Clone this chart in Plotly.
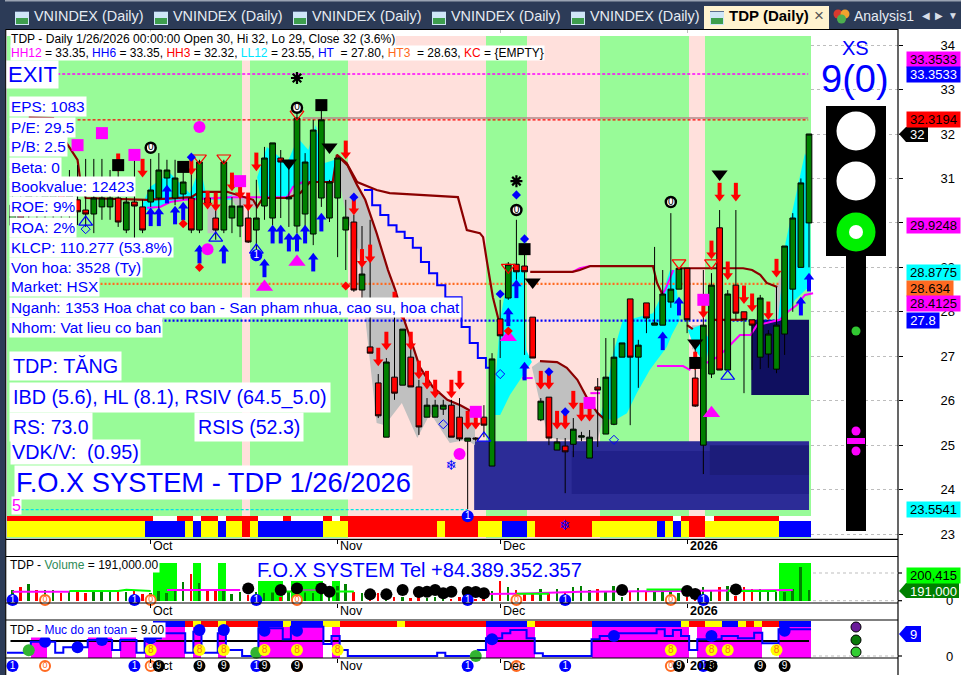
import plotly.graph_objects as go

# ---------- candle data ----------
opens = [29.95,30.52,30.18,30.56,30.18,30.29,30.74,30.29,30.52,30.29,
         30.20,30.36,30.36,30.56,29.84,30.47,30.36,30.47,30.56,31.01,
         30.56,30.65,30.56,29.84,30.56,30.11,29.84,30.11,29.93,30.11,
         29.84,30.38,30.11,31.46,30.54,29.93,30.20,29.75,30.56,30.11,
         30.56,29.84,30.02,28.49,27.21,26.40,25.18,26.53,26.35,26.98,
         26.31,25.63,25.63,25.81,25.90,25.63,25.09,25.16,25.63,24.53,
         27.84,28.31,29.07,29.03,27.88,25.57,26.08,24.89,24.98,25.02,
         25.18,24.71,26.31,25.25,25.47,26.98,28.29,26.98,28.20,27.70,
         27.70,28.22,28.51,28.98,26.51,25.00,26.60,29.89,26.69,28.60,
         28.00,27.82,26.98,27.05,26.71,27.50,28.51,29.00,30.00]
highs = [30.63,30.74,30.85,30.79,30.97,31.08,31.01,31.19,31.30,31.44,
         31.44,31.44,31.19,31.46,30.58,31.44,30.52,31.44,31.57,31.42,
         31.42,31.35,31.26,31.42,30.63,30.45,31.42,30.58,30.58,30.58,
         30.97,31.71,31.80,31.64,31.42,32.50,31.57,32.32,32.54,30.97,
         31.46,30.52,30.18,29.93,30.07,26.60,26.96,27.88,27.61,27.25,
         26.47,26.06,26.02,26.02,26.02,26.06,25.16,25.18,25.90,27.07,
         28.27,29.12,30.07,29.28,27.88,26.06,26.08,25.16,25.16,25.61,
         25.30,25.34,26.51,27.41,27.41,27.30,28.29,27.37,28.20,29.46,
         28.94,30.22,28.98,28.98,27.23,28.94,28.87,30.29,28.49,30.29,
         28.00,27.82,28.38,27.59,28.56,29.48,30.22,31.00,32.00]
lows = [29.73,29.80,29.84,29.89,29.73,29.95,30.07,29.89,29.95,29.91,
        29.77,30.07,30.07,29.91,29.77,29.66,29.77,30.36,30.29,30.63,
        30.40,30.52,29.77,29.77,30.34,29.62,29.77,29.77,29.68,29.55,
        29.35,30.07,29.95,30.11,29.91,29.77,29.84,29.50,30.36,30.02,
        29.23,28.94,28.45,28.31,27.07,25.61,25.18,26.02,26.35,26.31,
        25.23,25.63,25.63,25.68,25.18,25.09,23.56,25.09,25.18,24.53,
        26.96,28.27,28.72,27.03,26.96,25.54,25.00,24.89,23.92,24.73,
        25.09,24.71,24.96,25.25,25.45,26.98,25.45,26.29,27.52,27.70,
        27.70,28.09,28.51,27.52,25.86,24.35,26.51,26.69,26.69,27.82,
        26.17,26.69,26.71,26.74,26.62,27.03,28.00,29.00,29.00]
closes = [30.40,30.11,30.63,30.25,30.74,30.85,30.40,30.63,30.25,30.20,
          30.56,30.56,30.56,30.02,30.47,30.38,29.84,30.74,31.19,31.19,
          31.01,30.92,29.84,31.37,30.43,29.84,31.37,30.38,30.38,29.57,
          30.11,31.46,31.80,31.37,30.58,32.36,31.37,32.09,32.32,30.92,
          31.46,30.13,28.49,28.85,27.07,25.66,26.87,26.17,27.61,26.31,
          25.41,25.90,25.90,25.90,25.18,25.14,25.16,25.14,25.45,26.94,
          27.46,29.07,28.90,28.90,26.96,25.99,25.16,25.07,24.85,25.36,
          25.21,25.18,26.24,26.53,26.98,27.30,26.98,27.25,27.86,27.75,
          28.40,28.51,28.98,27.82,25.88,27.70,28.60,26.69,28.40,27.97,
          27.82,27.70,28.31,27.50,27.70,29.48,30.11,30.90,32.00]
volumes_k = [190,238,298,190,190,190,131,178,167,131,167,167,167,190,161,167,119,143,167,131,
             167,339,476,321,190,167,167,119,161,101,161,131,161,60,161,161,161,131,280,60,
             262,298,161,131,101,131,83,60,60,42,60,48,60,42,24,60,36,36,24,173,
             351,238,190,143,143,202,161,202,161,238,262,190,202,173,262,60,161,220,161,161,
             190,190,131,60,60,250,190,238,262,83,238,208,214,173,161,161,202,595,191]

# per-bar colour bands as (colour, run length)
zone_runs = [("g",29),("p",1),("g",12),("p",17),("g",5),("p",9),("g",11),("p",2),("g",13)]
strip1_runs = [("R",18),("W",3),("R",2),("W",1),("R",2),("W",1),("R",4),("W",3),("R",1),("W",4),
               ("R",1),("W",1),("R",41),("W",1),("R",3),("W",1),("R",8),("W",4)]
strip2_runs = [("Y",17),("B",5),("Y",1),("B",1),("Y",2),("B",1),("Y",2),("R",1),("Y",1),("B",8),
               ("Y",3),("R",11),("Y",1),("R",4),("Y",3),("B",3),("Y",1),("R",7),("Y",8),("B",1),
               ("Y",1),("B",1),("Y",1),("R",2),("Y",9),("B",4)]
ind_strip_runs = [("W",18),("B",4),("R",1),("Y",1),("R",2),("Y",1),("R",4),("B",3),("Y",1),("B",4),
                  ("Y",2),("R",7),("Y",1),("R",10),("B",5),("Y",1),("R",7),("B",11),("Y",1),("R",2),
                  ("Y",2),("B",2),("Y",1),("R",1),("Y",1),("R",2),("B",4)]
ind_bar_runs = [(0,3),(6.4,2),(0,5),(6.4,3),(0,1),(6.4,2),(0,1),(6.4,2),(9.7,3),(0,1),(9.7,1),(0,2),(9.7,1),
                (0,4),(9.7,8),(0,1),(9.7,1),(0,18),(9.7,6),(0,7),(9.7,12),(0,1),(9.7,8),(0,2),(9.7,4)]
lime_runs = [(0,18),(673,3),(0,2),(673,1),(0,2),(673,1),(0,4),(352,3),(0,1),(352,4),(0,1),(352,1),(0,54),(673,4)]

# levels
hh12 = 33.35; hh3 = 32.32; hh_solid = 32.36; ll12 = 23.55; ht = 27.80; ht3 = 28.63

# maroon line
maroon_x = [2,5,6,7,8,8.3,9,16.5,22,23,26.4,29.6,30.1,30.8,33.8,35.4,36.6,39.4,39.9,41.1,42.4,44.8,46.4,54.8,55.9,57.5,57.9,58.4,59.1,59.8,None,
            63.7,68.9,69.8,71.1,78.8,79.3,80,None,
            64.9,67,68.2,69.5,70.7,72,72.7,None,
            39.9,41.2,42.4,43.4,44.8,46.2,47.1,47.9,48.9,50.1,51.7,53.5,55.1,56.9,None,
            82.1,89.9,91,92,92.8,94.1,None,83,83.7,None,86.2,89.9]
maroon_y = [32.38,32.36,31.98,31.71,31.42,31.01,30.56,30.52,30.58,30.70,30.70,30.52,30.36,30.56,30.56,30.67,30.92,30.92,31.53,31.35,30.92,30.74,30.67,30.58,29.84,29.77,29.68,29.10,28.33,27.82,None,
            28.90,28.90,28.94,29.03,29.03,28.65,28.38,None,
            26.89,26.87,26.74,26.47,26.06,25.72,25.61,None,
            31.53,31.30,30.85,30.52,29.77,28.94,28.49,27.97,27.43,26.76,26.31,26.02,25.90,25.72,None,
            28.98,28.98,28.94,28.83,28.65,28.56,None,27.70,27.61,None,27.82,27.82]
# blue staircase
stair_x = [43.25,44.25,45.25,46.25,47.25,48.25,49.25,50.25,51.25,52.25,53.25,55.25,56.25,57.25,58.25,59.25]
stair_y = [30.74,30.40,30.18,29.95,29.80,29.66,29.44,29.12,28.87,28.60,28.33,27.66,27.30,26.96,26.74,26.74]
# magenta pieces
mag_x = [16.55,18.15,19.4,21.2,26.8,33.8,34.5,35.7,39.4,None,62.7,64,None,68.9,69.8,71.1,None,71.1,72.3,None,79.3,82.5,83.4,None,79.7,80.3,81.3,None,
         85.4,86.7,87.7,88.6,89.5,90.8,91.6,94.4,95.4,96.5,97.5,98.5]
mag_y = [30.34,30.36,30.47,30.52,30.58,30.58,30.81,30.92,30.92,None,26.51,26.51,None,28.90,28.98,29.03,None,26.17,26.17,None,26.78,26.78,26.69,None,28.33,28.49,28.94,None,
         26.85,26.98,27.14,27.32,27.48,27.48,27.70,27.82,28.00,28.15,28.38,28.42]
# cyan and grey areas
cyan_x = [59.1,60,61,62,62.9,63.2,63.9,61.2,60,59.1,None,
          72.3,73,73.9,75.1,76.6,78.8,79.9,80.9,81.5,82.1,81.1,80.5,78.4,76.8,75.6,74.1,72.3,None,
          83.1,84,85.3,85.8,84.6,83.1,None,
          94.2,95.1,97.5,98.1,98.2,96.3,95.1,94.2,None,
          15.7,16.9,19.4,21.8,23.1,23.9,25.8,27,27,21.8,19.4,16.9,15.7,None,
          30.1,31.3,33.8,35.1,36.4,37.3,38.4,39.7,39.4,36.6,34.5,33.8,30.5,30.1]
cyan_y = [25.68,27.82,28.87,28.94,28.94,27.14,26.87,26.13,25.68,25.68,None,
          25.61,26.13,27.07,27.82,27.86,27.97,28.38,28.94,28.94,27.82,27.48,27.21,26.69,26.17,25.72,25.56,25.61,None,
          27.59,27.14,26.80,27.37,27.70,27.59,None,
          27.82,29.55,31.57,31.30,28.60,28.27,27.86,27.82,None,
          30.29,30.81,31.12,30.67,31.26,30.58,30.58,30.63,30.52,30.52,30.47,30.29,30.29,None,
          31.03,31.71,31.35,31.91,31.64,32.20,31.35,31.42,30.92,30.92,30.81,30.58,30.58,31.03]
grey_x = [39.9,41.2,42.4,43.4,44.8,46.2,47.1,47.9,48.9,50.1,51.7,53.5,55.1,56.9,56.9,55.9,53.8,51.4,49.8,47.9,45.8,44.8,43.6,42.5,41.2,39.9,None,
          64.9,67,68.2,69.5,70.7,72,72.7,72,67.4,65.9,64.9,63.9,64.9,None,
          24,25.2,25.2,24,24,None,26.5,30,30,27.4,26.5,None,33.8,35,34.5,33.8,None,38.8,39.9,38.4,38.8,None,
          83.6,84.6,84.6,83.6,83.6,None,93.8,95,95,93.8,93.8]
grey_y = [31.53,31.30,30.85,30.52,29.77,28.94,28.49,27.97,27.43,26.76,26.31,26.02,25.90,25.72,25.00,25.12,25.05,25.72,25.16,25.95,25.45,25.50,27.52,29.39,30.07,31.19,None,
          26.89,26.87,26.74,26.47,26.06,25.72,25.61,25.12,25.12,25.18,25.95,26.76,26.89,None,
          30.36,30.36,29.77,29.77,30.36,None,30.70,30.52,30.34,30.40,30.70,None,30.58,31.48,30.58,30.58,None,31.35,30.58,30.58,31.35,None,
          27.70,27.70,27.16,27.16,27.70,None,28.54,28.94,27.82,27.82,28.54]
# dark zones
zone_x0 = [56.8,68.8,85.8,90.9]; zone_x1 = [98,98,98,98]
zone_hi = [25.09,24.87,25.00,27.82]; zone_lo = [23.54,23.90,24.33,26.13]
zone_col = ["#2C2C97","#21218A","#1C1C7A","#0F0F5F"]

# signals
red_arrow_x = [13,16,22,24,25,27,28,29,30,41,42,43,44,45,46,47,48,49,50,51,52,54,55,56,57,65,66,67,68,69,70,71,84,85,86,87,88,89,90,91,93,94]
red_arrow_y = [31.15,31.03,31.08,30.31,30.27,30.72,30.54,30.27,31.17,31.44,30.18,29.00,29.10,26.78,27.14,28.04,27.82,27.14,26.49,26.26,26.06,26.06,26.26,25.36,25.36,26.26,26.26,25.36,25.36,25.81,25.54,25.54,26.69,27.86,29.19,30.49,28.72,30.49,28.18,28.00,27.82,28.78]
blue_arrow_x = [17,18,19,20,21,23,26,31,32,33,34,35,36,37,38,61,62,63,80,82,97,98]
blue_arrow_y = [30.34,30.34,30.85,30.38,30.47,29.50,29.50,29.19,29.95,29.95,29.77,29.77,29.95,29.32,30.22,28.09,28.72,26.87,27.55,28.33,28.33,28.87]
mag_sq_x = [8,11,15,28,57,71,85]; mag_sq_y = [31.75,32.02,31.53,30.94,25.75,25.95,28.27]
blk_sq_x = [13,21,38,63,84]; blk_sq_y = [31.30,31.26,32.65,29.41,26.85]
mag_ci_x = [23,24,55]; mag_ci_y = [32.16,29.41,24.80]
mag_tr_x = [35,31,61,86]; mag_tr_y = [29.12,28.56,27.43,25.72]
blk_tr_x = [34,39,64,84,87]; blk_tr_y = [31.35,31.71,28.67,27.30,31.10]
red_open_x = [23,26,35,61,82,86]; red_open_y = [31.46,31.46,32.45,29.00,29.10,29.10]
blue_open_x = [9,25,30,88,58]; blue_open_y = [30.02,29.66,29.39,26.55,25.16]
blue_di_x = [22,42,62,63,60,66,68]; blue_di_y = [31.48,30.58,30.63,29.64,28.40,26.65,25.75]
red_di_x = [21,23,41,61]; red_di_y = [29.98,29.00,28.58,27.57]
hol_di_x = [53,60,74,9]; hol_di_y = [25.47,26.60,25.12,29.86]
zero_x = [17,35,62,81]; zero_y = [31.69,32.59,30.29,30.47]
star_x = [35,62]; star_y = [33.26,30.94]
one_x = [30,56]; one_y = [29.27,23.40]
flake_x = [54,68]; flake_y = [24.53,23.17]

# volume overlays
ma_x = [0,7,None,19,28,None,35,39,None,58,62,70,75,84,92,96]
ma_y = [160,160,None,190,190,None,180,180,None,119,125,160,165,165,175,190]
ma2_x = [7,13,14,17,None,31,42,None,62,66,None,78,83,None,88,94]
ma2_y = [175,175,195,175,None,165,165,None,125,125,None,200,200,None,175,175]
vol_dot_x = [29,33,35,38,39,44,46,48,50,51,52,53,54,56,57,58,75,83,84,89]
vol_dot_y = [220,190,220,220,161,113,113,190,155,161,190,131,161,155,155,131,190,173,119,202]

# indicator panel
ind_x = [0,3,6,7,10,13,14,16,17,19,22,23,24,26,27,29,31,34,35,39,40,41,42,53,54,58,59,61,62,64,65,66,72,73,75,80,81,82,83,84,85,88,90,92,93,95,99]
ind_y = [1.11,4.78,1.11,2.89,5.34,1.99,5.34,1.11,5.89,7.56,1.11,8.11,1.11,7.56,1.99,0,9.22,5.56,9.78,3.99,6.67,1.99,0,1.11,0,1.99,5.89,7.56,8.67,5.89,0.89,0,5.56,6.67,7.56,8.89,6.67,8.67,6.67,1.99,5.56,6.67,5.89,7.78,4.23,8.89,8.89]
ind_dot_x = [4,8,11,17,23,26,31,35,59,74,86,95]
ind_dot_y = [4.78,2.89,5.34,5.89,8.67,8.67,8.45,8.45,5.56,6.67,6.67,8.45]
ind_green_x = [2,30,57]; ind_green_y = [1.89,1.11,0]
eight_x = [17,23,26,31,35,40,81,86,88,94]; eight_y = [2]*10
row_blue = [0,15,30,56,68,85]
row_orange_v = [4,17,35,62,81]
row_orange_i = [4,17,35,62,81]
row_nine = [18,23,26,31,35,82,86,92,95]
ind_safe_level = 5

month_ticks = [17,40,60,83]
price_ticks = list(range(23,35))

# ---------- helpers ----------
W,H = 961,675
px = lambda x: x/W
py = lambda y: 1-y/H
def expand(runs):
    out=[]
    for v,n in runs: out += [v]*n
    return out
PAL = dict(g="#98FB98",p="#FFE0DC",R="#FF0000",W="#FFFFFF",Y="#FFFF00",B="#0000FF")
N = len(opens)
cells = [i-0.25 for i in range(N)]
X_RANGE = [-0.68,108.95]
Y_RANGE = [22.889,34.34]
BG_TOP,BG_BOT = 34.205,22.91
S1_TOP,S1_BOT,S2_BOT = 23.406,23.294,22.934
FONT = "Liberation Sans"

fig = go.Figure()
def bar(x,y,base,colors,xa="x",ya="y",width=1.0):
    fig.add_trace(go.Bar(x=x,y=y,base=base,width=width,marker=dict(color=colors,line=dict(width=0)),xaxis=xa,yaxis=ya,hoverinfo="skip"))

# backgrounds and strips
bar(cells,[BG_TOP-BG_BOT]*N,BG_BOT,[PAL[c] for c in expand(zone_runs)])
bar(cells,[S1_TOP-S1_BOT]*N,S1_BOT,[PAL[c] for c in expand(strip1_runs)])
bar(cells,[S1_BOT-S2_BOT]*N,S2_BOT,[PAL[c] for c in expand(strip2_runs)])
# dark zones
for a,b,h,l,c in zip(zone_x0,zone_x1,zone_hi,zone_lo,zone_col):
    fig.add_trace(go.Scatter(x=[a,b,b,a,a],y=[h,h,l,l,h],mode="lines",fill="toself",fillcolor=c,line=dict(width=0),hoverinfo="skip"))
# areas
fig.add_trace(go.Scatter(x=grey_x,y=grey_y,mode="lines",fill="toself",fillcolor="#C0C0C0",line=dict(width=0),hoverinfo="skip"))
fig.add_trace(go.Scatter(x=cyan_x,y=cyan_y,mode="lines",fill="toself",fillcolor="#00FFFF",line=dict(width=0),hoverinfo="skip"))
# lines in lower layer
def level(v,a,b,color,dash,w=1.3):
    fig.add_trace(go.Scatter(x=[a,b],y=[v,v],mode="lines",line=dict(color=color,width=w,dash=dash),hoverinfo="skip"))
level(hh12,5.5,97.9,"#FF00FF","3px,2px")
level(hh_solid,35.7,97.9,"#B08A8A",None,1.3)
level(hh3,8,97.9,"#FF0000","3px,2px")
level(ht3,0,94.5,"#FF6A21","2px,2px",2.2)
level(ht,0,94.5,"#0000FF","2px,2px",2.2)
level(ll12,1,56,"#00E5E5","3px,2px")
fig.add_trace(go.Scatter(x=mag_x,y=mag_y,mode="lines",line=dict(color="#FF00FF",width=2),hoverinfo="skip"))
fig.add_trace(go.Scatter(x=stair_x,y=stair_y,mode="lines",line=dict(color="#0000FF",width=2,shape="hv"),hoverinfo="skip"))
fig.add_trace(go.Scatter(x=maroon_x,y=maroon_y,mode="lines",line=dict(color="#8B0000",width=2.2),hoverinfo="skip"))

# candles on overlay axis
fig.add_trace(go.Candlestick(x=list(range(N)),open=opens,high=highs,low=lows,close=closes,xaxis="x",yaxis="y2",whiskerwidth=0,
    increasing=dict(fillcolor="#008000",line=dict(color="#000000",width=1)),
    decreasing=dict(fillcolor="#FF0000",line=dict(color="#000000",width=1)),hoverinfo="skip"))

def marks(x,y,symbol,size,color,lc=None,lw=0,xa="x",ya="y2",text=None,tc="#FFFFFF",ts=9):
    fig.add_trace(go.Scatter(x=x,y=y,mode="markers+text" if text else "markers",
        marker=dict(symbol=symbol,size=size,color=color,line=dict(color=lc or color,width=lw)),
        text=text,textposition="middle center",textfont=dict(family=FONT,size=ts,color=tc),
        xaxis=xa,yaxis=ya,hoverinfo="skip",cliponaxis=False))

HEAD,STEM = 0.095,0.27
marks(red_arrow_x,[v+STEM for v in red_arrow_y],"line-ns",9,"#FF0000",lw=4)
marks(red_arrow_x,[v+HEAD for v in red_arrow_y],"triangle-down",9,"#FF0000")
marks(blue_arrow_x,[v-STEM for v in blue_arrow_y],"line-ns",9,"#0000FF",lw=4)
marks(blue_arrow_x,[v-HEAD for v in blue_arrow_y],"triangle-up",9,"#0000FF")
marks(mag_sq_x,mag_sq_y,"square",12,"#FF00FF")
marks(blk_sq_x,blk_sq_y,"square",12,"#000000")
marks(mag_ci_x,mag_ci_y,"circle",12,"#FF00FF")
marks(mag_tr_x,mag_tr_y,"triangle-up",15,"#FF00FF")
marks(blk_tr_x,blk_tr_y,"triangle-down",14,"#000000")
marks(red_open_x,red_open_y,"triangle-down-open",12,"#FF0000",lw=1.2)
marks(blue_open_x,blue_open_y,"triangle-up-open",12,"#0000FF",lw=1.2)
marks(blue_di_x,blue_di_y,"diamond",7,"#0000FF")
marks(red_di_x,red_di_y,"diamond",7,"#FF0000")
marks(hol_di_x,hol_di_y,"diamond-open",7,"#0000FF",lw=1)
marks(zero_x,zero_y,"circle",10,"#FFFFFF",lc="#000000",lw=2.5,text=["0"]*4,tc="#000000",ts=10)
marks(star_x,star_y,"asterisk-open",10,"#000000",lw=2.2)
marks(one_x,one_y,"circle",12,"#0000FF",text=["1"]*2,tc="#FFFFFF",ts=10)
fig.add_trace(go.Scatter(x=flake_x,y=flake_y,mode="text",text=["\u2744"]*2,textposition="middle center",
    textfont=dict(family="DejaVu Sans",size=14,color="#0000FF"),xaxis="x",yaxis="y2",hoverinfo="skip",cliponaxis=False))

# volume panel
bar(cells,expand(lime_runs),0,"#00FF00",xa="x2",ya="y3")
vol_cols = ["#FF0000" if c<o else "#008000" for o,c in zip(opens,closes)]
bar(list(range(N)),volumes_k,0,vol_cols,xa="x2",ya="y3",width=0.24)
fig.add_trace(go.Scatter(x=ma_x,y=ma_y,mode="lines",line=dict(color="#FF00FF",width=2),xaxis="x2",yaxis="y3",hoverinfo="skip"))
fig.add_trace(go.Scatter(x=ma2_x,y=ma2_y,mode="lines",line=dict(color="#00FF00",width=2),xaxis="x2",yaxis="y3",hoverinfo="skip"))
marks(vol_dot_x,vol_dot_y,"circle",12,"#000000",xa="x2",ya="y3")
marks(row_blue,[12]*6,"circle",12,"#0000FF",xa="x2",ya="y3",text=["1"]*6,ts=10)
marks(row_orange_v,[12]*5,"circle",10,"#FFFFFF",lc="#FF6A21",lw=2,xa="x2",ya="y3",text=["0"]*5,tc="#FF6A21",ts=9)

# indicator panel
ind_h = expand(ind_bar_runs)
bar(cells,[h+0.67 if h>0 else 0 for h in ind_h],-0.67,"#FF00FF",xa="x3",ya="y4")
bar(cells,[1.97]*N,9.7,[PAL[c] for c in expand(ind_strip_runs)],xa="x3",ya="y4")
fig.add_trace(go.Scatter(x=[-0.25,98],y=[ind_safe_level]*2,mode="lines",line=dict(color="#000000",width=2),xaxis="x3",yaxis="y4",hoverinfo="skip"))
fig.add_trace(go.Scatter(x=[v-0.75 for v in ind_x],y=ind_y,mode="lines",line=dict(color="#0000FF",width=2,shape="hv"),xaxis="x3",yaxis="y4",hoverinfo="skip"))
marks(ind_dot_x,ind_dot_y,"circle",12,"#0000FF",xa="x3",ya="y4")
marks(ind_green_x,ind_green_y,"circle",12,"#32B432",xa="x3",ya="y4")
marks(eight_x,eight_y,"circle",12,"#FFFF00",xa="x3",ya="y4",text=["8"]*10,tc="#FF6A21",ts=10)
marks(row_blue,[-3.33]*6,"circle",12,"#0000FF",xa="x3",ya="y4",text=["1"]*6,ts=10)
marks(row_orange_i,[-3.33]*5,"circle",10,"#FFFFFF",lc="#FF6A21",lw=2,xa="x3",ya="y4",text=["0"]*5,tc="#FF6A21",ts=9)
marks(row_nine,[-3.33]*9,"circle",12,"#000000",xa="x3",ya="y4",text=["9"]*9,ts=10)

# ---------- chrome ----------
shapes=[]
def rect(x0,y0,x1,y1,color,layer="above"):
    shapes.append(dict(type="rect",xref="paper",yref="paper",x0=px(x0),x1=px(x1),y0=py(y0),y1=py(y1),fillcolor=color,line=dict(width=0),layer=layer))
def hline(y,x0=6,x1=898,color="#000000",w=1.2,dash=None,layer="above"):
    shapes.append(dict(type="line",xref="paper",yref="paper",x0=px(x0),x1=px(x1),y0=py(y),y1=py(y),line=dict(color=color,width=w,dash=dash),layer=layer))
def vline(x,y0,y1,color="#000000",w=1.2):
    shapes.append(dict(type="line",xref="paper",yref="paper",x0=px(x),x1=px(x),y0=py(y0),y1=py(y1),line=dict(color=color,width=w),layer="above"))
def disc(cx,cy,r,color):
    shapes.append(dict(type="circle",xref="paper",yref="paper",x0=px(cx-r),x1=px(cx+r),y0=py(cy+r),y1=py(cy-r),fillcolor=color,line=dict(width=0),layer="above"))
def poly(pts,color):
    path="M"+" L".join(f"{px(a):.5f},{py(b):.5f}" for a,b in pts)+" Z"
    shapes.append(dict(type="path",xref="paper",yref="paper",path=path,fillcolor=color,line=dict(width=0),layer="above"))

NAVY="#2C3B57"
rect(0,0,961,29,NAVY)
rect(0,0,961,1.5,"#9AA3B2")
rect(0,0,5,675,NAVY)
rect(704,6,829,29,"#FFF3CF")
for ix in [15,154,293,432,571,710]:
    rect(ix,11,ix+14,25,"#CFE6F7")
    rect(ix+1,18,ix+13,24,"#3E9E4E")
    rect(ix,11,ix+14,12,"#5C6F8F")
for hx,c in [(838,"#D83A2E"),(845,"#F2A22E"),(841.5,"#4CAF50")]:
    disc(hx,14+(5 if c=="#4CAF50" else 0),4.5,c)
for y in [539.3,556.5,603,620]:
    hline(y,6,898)
hline(658,6,898)
hline(29.5,6,898,"#000000",1)
vline(898,29,675); vline(5.7,29,675)
for y in [573,600.7,656]:
    hline(y,813,898,"#BDBDBD",1,"dot")
for y,x in [(573,902),(600.7,902),(656,902)]:
    hline(y,898,x)
# traffic light
rect(826,106,886,256,"#000000"); rect(846,256,866,531,"#000000")
disc(856,131,19.5,"#FFFFFF"); disc(856,181,19.5,"#FFFFFF"); disc(856,232,19.5,"#00F000"); disc(856,232,7,"#FFFFFF")
disc(856,331,4.5,"#32C832"); disc(856,431,4.5,"#FF00FF"); disc(856,451,4.5,"#FF00FF"); rect(847,438,865,444,"#FF00FF")
# value tags
poly([(899,134),(906,127),(928,127),(928,142),(906,142)],"#000000")
poly([(899,591),(906,583),(959,583),(959,598),(906,598)],"#008000")
poly([(899,634),(906,626),(921,626),(921,642),(906,642)],"#0000FF")
# legend dots in indicator
for cy,c in [(627,"#6A1B9A"),(640,"#0A7A0A"),(652,"#32CD32")]:
    shapes.append(dict(type="circle",xref="paper",yref="paper",x0=px(851),x1=px(861),y0=py(cy+5),y1=py(cy-5),fillcolor=c,line=dict(color="#000000",width=1),layer="above"))

def label(text,x,y,size=16,color="#0000FF",bg=None,anchor="left",font=FONT,width=None,height=None,align=None,pad=1):
    fig.add_annotation(xref="paper",yref="paper",x=x/W,y=1-y/H,text=text,showarrow=False,xanchor=anchor,yanchor="middle",
        font=dict(family=font,size=size,color=color),bgcolor=bg or "rgba(0,0,0,0)",borderpad=pad,width=width,height=height,align=align or "left")

# tabs
for tx in [33,172,311,450,589]:
    label("VNINDEX (Daily)",tx,16,14.4,"#E6EBF3",pad=0)
label("<b>TDP (Daily)</b>",728,16,15,"#000000",pad=0)
label("\u00d7",819,15,17,"#555555",anchor="center",pad=0)
label("Analysis1",853,16,14,"#E6EBF3",pad=0)
label("\u25C0",926,15,10,"#D8DEE8",anchor="center",pad=0)
label("\u25B6",939,15,10,"#D8DEE8",anchor="center",pad=0)
label("\u25BC",953,15,10,"#D8DEE8",anchor="center",pad=0)

# header
label("TDP - Daily 1/26/2026 00:00:00 Open 30, Hi 32, Lo 29, Close 32 (3.6%)",10,39,12.1,"#000000","#FFFFFF",pad=0)
sp=lambda c,t:f'<span style="color:{c}">{t}</span>'
label(sp("#FF00FF","HH12")+" = 33.35, "+sp("#0000FF","HH6")+" = 33.35, "+sp("#FF0000","HH3")+" = 32.32, "+sp("#00E5FF","LL12")+" = 23.55, "+sp("#0000FF","HT")+"\u00a0 = 27.80, "+sp("#FF6A21","HT3")+"\u00a0 = 28.63, "+sp("#FF0000","KC")+" = {EMPTY}",
      10,53,12,"#000000","#FFFFFF",pad=0)
label("EXIT",6,74,22,"#0000FF","#FFFFFF")
info=[("EPS: 1083",107),("P/E: 29.5",127),("P/B: 2.5",147),("Beta: 0",167),("Bookvalue: 12423",187),("ROE: 9%",207),("ROA: 2%",227),
      ("KLCP: 110.277 (53.8%)",247),("Von hoa: 3528 (Ty)",267),("Market: HSX",287),("Nganh: 1353 Hoa chat co ban - San pham nhua, cao su, hoa chat",307),("Nhom: Vat lieu co ban",327)]
for t,y in info:
    label(t,9,y,15.4,"#0000FF","#FFFFFF")
label("TDP: T\u0102NG",9,366,19.8,"#0000FF","#FFFFFF",pad=3)
label("IBD (5.6), HL (8.1), RSIV (64.5_5.0)",9,397,19.8,"#0000FF","#FFFFFF",pad=3)
label("RS: 73.0",9,427,19.4,"#0000FF","#FFFFFF",pad=3)
label("RSIS (52.3)",194,427,19.6,"#0000FF","#FFFFFF",pad=3)
label("VDK/V:\u00a0\u00a0(0.95)",10,452,19.8,"#0000FF","#FFFFFF",pad=1)
label("F.O.X SYSTEM - TDP 1/26/2026",14,483,27.3,"#0000FF","#FFFFFF")
label("5",11,505,16,"#FF00FF","#FFFFFF",pad=0)
label("XS",855,48,20,"#0000FF",anchor="center",pad=0)
label("9(0)",855,79,38,"#0000FF",anchor="center",pad=0)

# month labels
for y in [546,610.5,666]:
    for t,x in [("Oct",152),("Nov",339),("Dec",502),("<b>2026</b>",689)]:
        label(t,x,y,12.5,"#000000",pad=0)
# panel titles
label("TDP - "+sp("#2E8B57","Volume")+" = 191,000.00",9,565,12,"#000000","#FFFFFF",pad=0)
label("F.O.X SYSTEM Tel +84.389.352.357",256,570,20,"#0000FF",pad=0)
label("TDP - "+sp("#0000FF","Muc do an toan")+" = 9.00",9,630,12,"#000000","#FFFFFF",pad=0)

# right-hand value tags
tags=[("33.3533",59.5,"#FF00FF","#000000",53),("33.3533",74,"#0000FF","#FFFFFF",53),("32.3194",119.5,"#FF0000","#000000",53),
      ("29.9248",226,"#FF00FF","#000000",53),("28.8775",273,"#00FFFF","#000000",53),("28.634",288,"#FF6A21","#000000",46),
      ("28.4125",303,"#FF00FF","#000000",53),("27.8",320.5,"#0000FF","#FFFFFF",32),("23.5541",509.5,"#00FFFF","#000000",53),
      ("200,415",575.5,"#00FF00","#000000",53)]
for t,y,bg,fc,w in tags:
    label(t,906,y,13,fc,bg,width=w,height=15,align="center",pad=0)
label("32",917,134.5,13,"#FFFFFF",anchor="center",pad=0)
label("191,000",933,591,13,"#FFFFFF",anchor="center",pad=0)
label("9",913,634,13,"#FFFFFF",anchor="center",pad=0)

axis_font=dict(family=FONT,size=13,color="#000000")
x_common=dict(range=X_RANGE,domain=[px(7),px(898)],tickvals=month_ticks,ticks="outside",ticklen=4,tickcolor="#000000",showticklabels=False,
              zeroline=False,showgrid=False,showline=False,fixedrange=True)
fig.update_layout(
    width=W,height=H,margin=dict(l=0,r=0,t=0,b=0,pad=0,autoexpand=False),paper_bgcolor="#FFFFFF",plot_bgcolor="#FFFFFF",
    showlegend=False,barmode="overlay",bargap=0,boxgroupgap=0,boxgap=0.3,dragmode=False,shapes=shapes,
    xaxis={**x_common,"anchor":"y","rangeslider":dict(visible=False),"showgrid":True,"gridcolor":"#BDBDBD","griddash":"dot","gridwidth":1},
    yaxis=dict(domain=[py(539),py(30)],range=Y_RANGE,side="right",anchor="x",tickvals=price_ticks,ticks="outside",ticklen=4,tickcolor="#000000",
               tickfont=axis_font,ticklabelstandoff=35,showgrid=True,gridcolor="#BDBDBD",griddash="dot",gridwidth=1,zeroline=False,showline=False,fixedrange=True),
    yaxis2=dict(domain=[py(539),py(30)],range=Y_RANGE,overlaying="y",visible=False,anchor="x",fixedrange=True),
    xaxis2={**x_common,"anchor":"y3"},
    yaxis3=dict(domain=[py(603),py(557)],range=[-41,780],side="right",anchor="x2",tickvals=[0],ticktext=["0"],ticks="",tickfont=axis_font,
                ticklabelstandoff=47,showgrid=False,zeroline=False,fixedrange=True),
    xaxis3={**x_common,"anchor":"free","position":1-658/H},
    yaxis4=dict(domain=[0,py(621)],range=[-6.33,11.67],side="right",anchor="x3",tickvals=[0],ticktext=["0"],ticks="",tickfont=axis_font,
                ticklabelstandoff=47,showgrid=False,zeroline=False,fixedrange=True),
)
fig.write_html("out.html",config=dict(displayModeBar=False),
               post_script="document.body.style.margin='0';document.body.style.overflow='hidden';")
